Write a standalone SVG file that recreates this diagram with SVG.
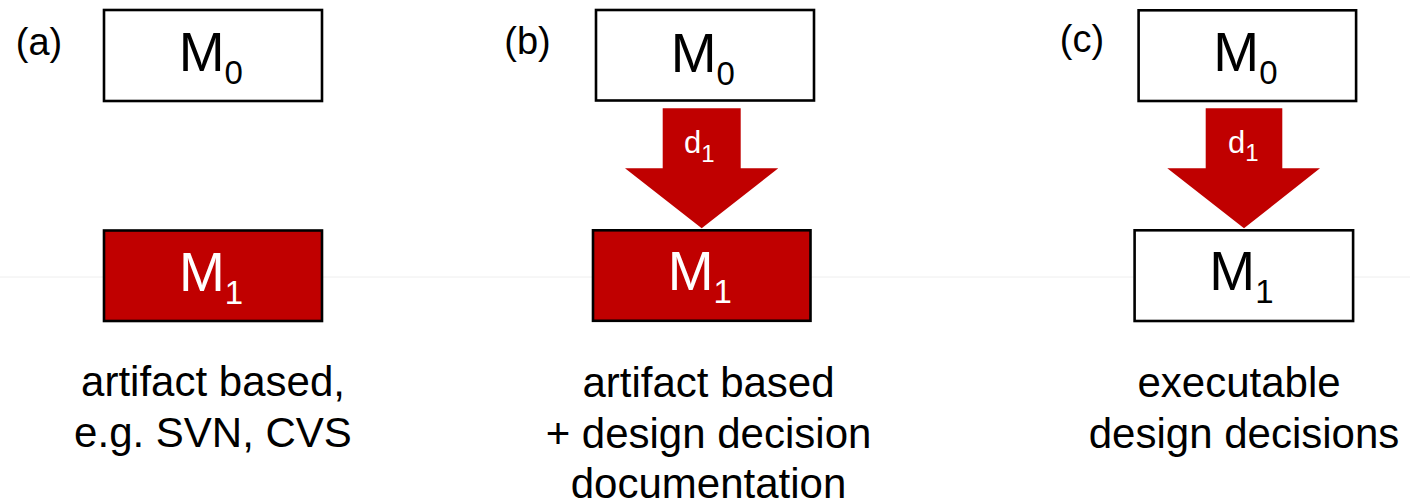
<svg xmlns="http://www.w3.org/2000/svg" width="1410" height="504" viewBox="0 0 1410 504">
  <style>
    text { font-family: "Liberation Sans", Arial, sans-serif; }
    .box { fill: #ffffff; stroke: #000000; stroke-width: 2.6; }
    .box.red { fill: #c00000; }
    .m { font-size: 55px; fill: #000000; }
    .m.inv { fill: #ffffff; }
    .sub { font-size: 33px; }
    .tag { font-size: 38px; fill: #000000; text-anchor: middle; }
    .caption { font-size: 42px; fill: #000000; text-anchor: middle; }
    .arrow { fill: #c00000; }
    .d { font-size: 31px; fill: #ffffff; }
    .dsub { font-size: 24px; }
  </style>

  <!-- thin rule across the page -->
  <line x1="0" y1="277" x2="1410" y2="277" stroke="#eeeeee" stroke-width="1"/>

  <!-- (a) artifact based -->
  <g id="panel-a">
    <text class="tag" x="39" y="55">(a)</text>
    <g id="a-m0">
      <rect class="box" x="104" y="10" width="218" height="91"/>
      <text class="m" x="178.7" y="71">M<tspan class="sub" dy="13">0</tspan></text>
    </g>
    <g id="a-m1">
      <rect class="box red" x="104" y="230.5" width="218" height="90.5"/>
      <text class="m inv" x="179" y="290.5">M<tspan class="sub" dy="13">1</tspan></text>
    </g>
    <text class="caption" x="213" y="396">artifact based,</text>
    <text class="caption" x="213" y="447">e.g. SVN, CVS</text>
  </g>

  <!-- (b) artifact based + design decision documentation -->
  <g id="panel-b">
    <text class="tag" x="527.5" y="54">(b)</text>
    <g id="b-m0">
      <rect class="box" x="596" y="10" width="218" height="90.5"/>
      <text class="m" x="670.7" y="71.5">M<tspan class="sub" dy="13">0</tspan></text>
    </g>
    <g id="b-m1">
      <rect class="box red" x="593" y="230.3" width="217.5" height="90.5"/>
      <text class="m inv" x="667.7" y="290">M<tspan class="sub" dy="13">1</tspan></text>
    </g>
    <text class="caption" x="708.5" y="396.5">artifact based</text>
    <text class="caption" x="708.5" y="448">+ design decision</text>
    <text class="caption" x="708.5" y="498">documentation</text>
  </g>

  <!-- (c) executable design decisions -->
  <g id="panel-c">
    <text class="tag" x="1082" y="52">(c)</text>
    <g id="c-m0">
      <rect class="box" x="1138.6" y="10.3" width="217.5" height="90.7"/>
      <text class="m" x="1213.3" y="71">M<tspan class="sub" dy="13">0</tspan></text>
    </g>
    <g id="c-m1">
      <rect class="box" x="1134.6" y="230.3" width="218.5" height="90.7"/>
      <text class="m" x="1209.3" y="290">M<tspan class="sub" dy="13">1</tspan></text>
    </g>
    <text class="caption" x="1239" y="396.5">executable</text>
    <text class="caption" x="1244" y="448">design decisions</text>
  </g>

  <!-- decision arrows -->
  <g id="connectors">
    <g id="b-d1">
      <polygon class="arrow" points="662.7,108.3 740.7,108.3 740.7,168.3 778.3,168.3 701.7,228.3 625,168.3 662.7,168.3"/>
      <text class="d" x="684" y="153">d<tspan class="dsub" dy="9">1</tspan></text>
    </g>
    <g id="c-d1">
      <polygon class="arrow" points="1205.7,108.3 1282.3,108.3 1282.3,168.3 1320,168.3 1244,228.3 1167.3,168.3 1205.7,168.3"/>
      <text class="d" x="1228" y="152.5">d<tspan class="dsub" dy="8">1</tspan></text>
    </g>
  </g>
</svg>
